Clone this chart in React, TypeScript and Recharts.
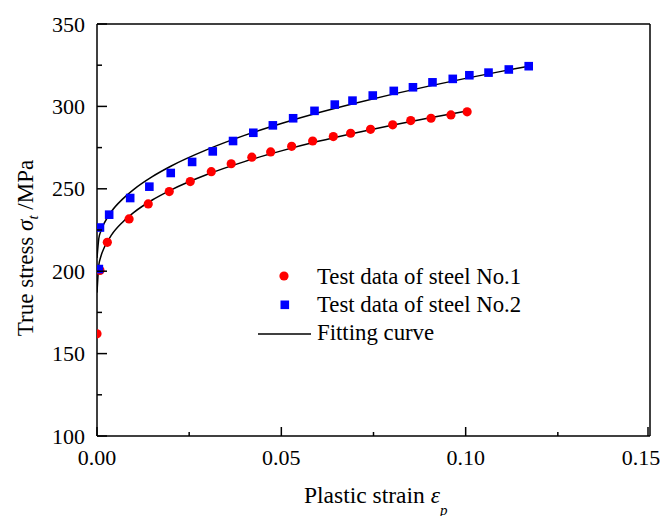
import React from 'react';
import { ComposedChart, XAxis, YAxis, Scatter, Line, ReferenceLine, Customized } from 'recharts';

// ---- data ----
const steel1Strain = [0, 0.0008, 0.0028, 0.0087, 0.0139, 0.0196, 0.0253, 0.031, 0.0364, 0.042, 0.0471, 0.0528, 0.0585, 0.0641, 0.0688, 0.0742, 0.0802, 0.0851, 0.0906, 0.096, 0.1004];
const steel1Stress = [162, 200.5, 217.5, 231.7, 240.8, 248.3, 254.4, 260.4, 265.2, 269.2, 272.4, 275.8, 279, 281.7, 283.7, 286.1, 288.8, 291.4, 292.8, 294.8, 296.7];

const steel2Strain = [0.0005, 0.0008, 0.0033, 0.009, 0.0142, 0.02, 0.0258, 0.0314, 0.0369, 0.0424, 0.0477, 0.0532, 0.059, 0.0645, 0.0693, 0.0748, 0.0805, 0.0857, 0.091, 0.0965, 0.101, 0.1062, 0.1117, 0.1171];
const steel2Stress = [201.3, 226.5, 234.3, 244.4, 251.3, 259.6, 266.3, 272.7, 279, 284, 288.5, 292.8, 297.3, 301.1, 303.5, 306.6, 309.4, 311.6, 314.6, 316.7, 318.9, 320.5, 322.4, 324.4];

const fit1Strain = [0, 0.0005, 0.001, 0.002, 0.004, 0.007, 0.01, 0.015, 0.02, 0.03, 0.04, 0.05, 0.06, 0.07, 0.08, 0.09, 0.1];
const fit1Stress = [187, 203.8, 208.6, 214.5, 222.2, 229.9, 235.7, 243.2, 249.2, 258.8, 266.5, 273, 278.8, 283.9, 288.6, 292.9, 297];

const fit2Strain = [0, 0.0005, 0.001, 0.002, 0.004, 0.007, 0.01, 0.015, 0.02, 0.03, 0.04, 0.05, 0.06, 0.07, 0.08, 0.09, 0.1, 0.11, 0.1171];
const fit2Stress = [208, 220, 224, 229.3, 236.5, 243.9, 249.7, 257.4, 263.7, 273.9, 282.4, 289.6, 296.1, 301.9, 307.3, 312.3, 317, 321.4, 324.4];

const xTicks = [0, 0.025, 0.05, 0.075, 0.1, 0.125, 0.15];
const yTicks = [100, 125, 150, 175, 200, 225, 250, 275, 300, 325, 350];

const legendLabels = ['Test data of steel No.1', 'Test data of steel No.2', 'Fitting curve'];

const zip = (xs: number[], ys: number[]) => xs.map((x, i) => ({ x, y: ys[i] }));
const steel1 = zip(steel1Strain, steel1Stress);
const steel2 = zip(steel2Strain, steel2Stress);
const fit1 = zip(fit1Strain, fit1Stress);
const fit2 = zip(fit2Strain, fit2Stress);

// ---- layout ----
const W = 654;
const H = 508;
const M = { top: 16, right: 12, left: 29, bottom: 40 };
const YW = 60;
const XH = 40;
const AX = M.left + YW;
const AY = H - M.bottom - XH;
const FONT = '"Liberation Serif", "Times New Roman", serif';
const FS = 22;

const YTick = (props: any) => {
  const { y, payload } = props;
  const v = payload.value;
  const major = v % 50 === 0;
  return (
    <g>
      <line x1={AX} x2={AX + (major ? 10 : 5)} y1={y} y2={y} stroke="#000" strokeWidth={1.5} />
      {major && (
        <text x={AX - 12} y={y + 7.5} textAnchor="end" fontFamily={FONT} fontSize={FS} fill="#000">
          {v}
        </text>
      )}
    </g>
  );
};

const XTick = (props: any) => {
  const { x, payload } = props;
  const v = payload.value;
  const r = v / 0.05;
  const major = Math.abs(r - Math.round(r)) < 1e-6;
  const isLast = v === xTicks[xTicks.length - 1];
  return (
    <g>
      <line x1={x} x2={x} y1={AY} y2={AY - (major ? 9 : 4)} stroke="#000" strokeWidth={1.5} />
      {major && (
        <text x={isLast ? x - 7 : x} y={AY + 29} textAnchor="middle" fontFamily={FONT} fontSize={FS} fill="#000">
          {v.toFixed(2)}
        </text>
      )}
    </g>
  );
};

const RedDot = (props: any) => <circle cx={props.cx} cy={props.cy} r={4.6} fill="#FF0000" />;
const BlueSquare = (props: any) => (
  <rect x={props.cx - 4.3} y={props.cy - 4.3} width={8.6} height={8.6} fill="#0000FF" />
);

const Extras = () => (
  <g fontFamily={FONT} fill="#000">
    {/* legend */}
    <g fontSize={22.8}>
      <circle cx={276} cy={268} r={4.6} fill="#FF0000" />
      <text x={309} y={276}>{legendLabels[0]}</text>
      <rect x={272.5} y={292.5} width={8.6} height={8.6} fill="#0000FF" />
      <text x={309} y={304}>{legendLabels[1]}</text>
      <line x1={250} x2={303} y1={326} y2={326} stroke="#000" strokeWidth={1.5} />
      <text x={309} y={332}>{legendLabels[2]}</text>
    </g>
    {/* axis titles */}
    <text x={296} y={495} fontSize={23.5}>
      Plastic strain{' '}
      <tspan fontStyle="italic">ε</tspan>
      <tspan fontStyle="italic" fontSize={15} dy={12}>p</tspan>
    </text>
    <text transform="rotate(-90)" x={-240} y={25} textAnchor="middle" fontSize={23}>
      True stress{' '}
      <tspan fontStyle="italic">σ</tspan>
      <tspan fontStyle="italic" fontSize={15} dy={5}>t</tspan>
      <tspan dy={-5}> /MPa</tspan>
    </text>
  </g>
);

export default function App() {
  return (
    <>
      <style>{`html{overflow:hidden}`}</style>
      <ComposedChart width={W} height={H} margin={M}>
        <XAxis
          type="number"
          dataKey="x"
          domain={[0, 0.15]}
          ticks={xTicks}
          height={XH}
          tick={<XTick />}
          tickLine={false}
          axisLine={{ stroke: '#000', strokeWidth: 1.5 }}
          allowDataOverflow
        />
        <YAxis
          type="number"
          dataKey="y"
          domain={[100, 350]}
          ticks={yTicks}
          width={YW}
          tick={<YTick />}
          tickLine={false}
          axisLine={{ stroke: '#000', strokeWidth: 1.5 }}
          allowDataOverflow
        />
        <ReferenceLine y={350} stroke="#000" strokeWidth={1.5} />
        <ReferenceLine x={0.15} stroke="#000" strokeWidth={1.5} />
        <Scatter data={steel1} dataKey="y" shape={<RedDot />} isAnimationActive={false} />
        <Scatter data={steel2} dataKey="y" shape={<BlueSquare />} isAnimationActive={false} />
        <Line data={fit1} dataKey="y" type="monotone" stroke="#000" strokeWidth={1.5} dot={false} activeDot={false} isAnimationActive={false} />
        <Line data={fit2} dataKey="y" type="monotone" stroke="#000" strokeWidth={1.5} dot={false} activeDot={false} isAnimationActive={false} />
        <Customized component={Extras} />
      </ComposedChart>
    </>
  );
}
